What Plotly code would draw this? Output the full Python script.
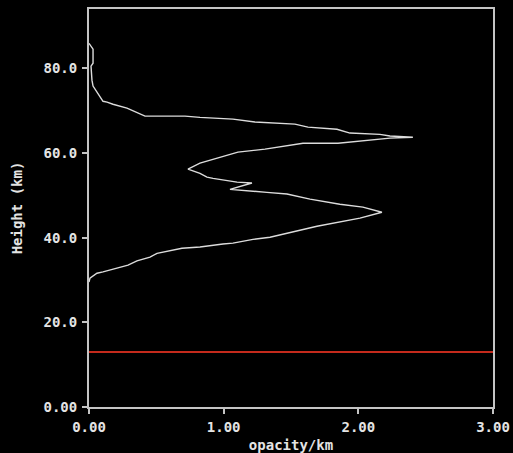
import plotly.graph_objects as go

# opacity profile (opacity/km vs height km)
opacity = [0.0, 0.03, 0.03, 0.015, 0.022, 0.03, 0.104, 0.134, 0.178, 0.282, 0.416,
           0.713, 0.824, 1.069, 1.232, 1.529, 1.626, 1.841, 1.938, 2.160, 2.235, 2.405,
           2.235, 2.064, 1.849, 1.589, 1.492, 1.307, 1.106, 0.973, 0.824, 0.735,
           0.824, 0.876, 0.921, 1.099, 1.210, 1.047, 1.143, 1.321, 1.470, 1.641,
           1.863, 2.034, 2.175, 2.012, 1.693, 1.492, 1.344, 1.218, 1.069, 0.995,
           0.824, 0.690, 0.579, 0.505, 0.453, 0.356, 0.290, 0.193, 0.104, 0.059,
           0.007, 0.0]
height = [85.9, 84.5, 81.2, 80.5, 77.2, 75.8, 72.2, 72.0, 71.5, 70.6, 68.7,
          68.7, 68.4, 68.0, 67.3, 66.8, 66.1, 65.6, 64.7, 64.4, 64.0, 63.7,
          63.5, 63.0, 62.3, 62.3, 61.8, 60.9, 60.2, 59.0, 57.6, 56.2,
          55.2, 54.3, 54.0, 53.1, 52.9, 51.4, 51.2, 50.7, 50.3, 49.1,
          47.9, 47.2, 46.0, 44.6, 42.7, 41.3, 40.1, 39.6, 38.7, 38.5,
          37.8, 37.5, 36.8, 36.3, 35.4, 34.5, 33.5, 32.6, 31.9, 31.6,
          30.4, 29.5]

# red reference level
ref_x = [0.0, 3.0]
ref_y = [13.0, 13.0]

x_ticks = [0, 1, 2, 3]
x_labels = ["0.00", "1.00", "2.00", "3.00"]
y_ticks = [0, 20, 40, 60, 80]
y_labels = ["0.00", "20.0", "40.0", "60.0", "80.0"]

axis_col = "#c4c4c4"
font = dict(family="DejaVu Sans Mono", size=14, color="#e4e4e4", weight="bold")

fig = go.Figure()
fig.add_trace(go.Scatter(x=ref_x, y=ref_y, mode="lines",
                         line=dict(color="#c42a1c", width=2), showlegend=False))
fig.add_trace(go.Scatter(x=opacity, y=height, mode="lines",
                         line=dict(color="#dcdcdc", width=1.4), showlegend=False))

fig.update_layout(
    width=513, height=453,
    paper_bgcolor="black", plot_bgcolor="black",
    margin=dict(l=89, r=20, t=9, b=46),
    font=font,
    xaxis=dict(range=[0, 3], tickvals=x_ticks, ticktext=x_labels, automargin=False,
               showgrid=False, zeroline=False, showline=True, linecolor=axis_col,
               linewidth=2, mirror=True, ticks="outside", ticklen=5, tickwidth=2,
               tickcolor=axis_col, tickfont=font, ticklabelstandoff=1,
               title=dict(text="opacity/km", font=font, standoff=6)),
    yaxis=dict(range=[0, 94], tickvals=y_ticks, ticktext=y_labels, automargin=False,
               showgrid=False, zeroline=False, showline=True, linecolor=axis_col,
               linewidth=2, mirror=True, ticks="outside", ticklen=5, tickwidth=2,
               tickcolor=axis_col, tickfont=font, ticklabelstandoff=2,
               title=dict(text="Height (km)", font=font, standoff=18)),
)

fig.write_html("out.html")
